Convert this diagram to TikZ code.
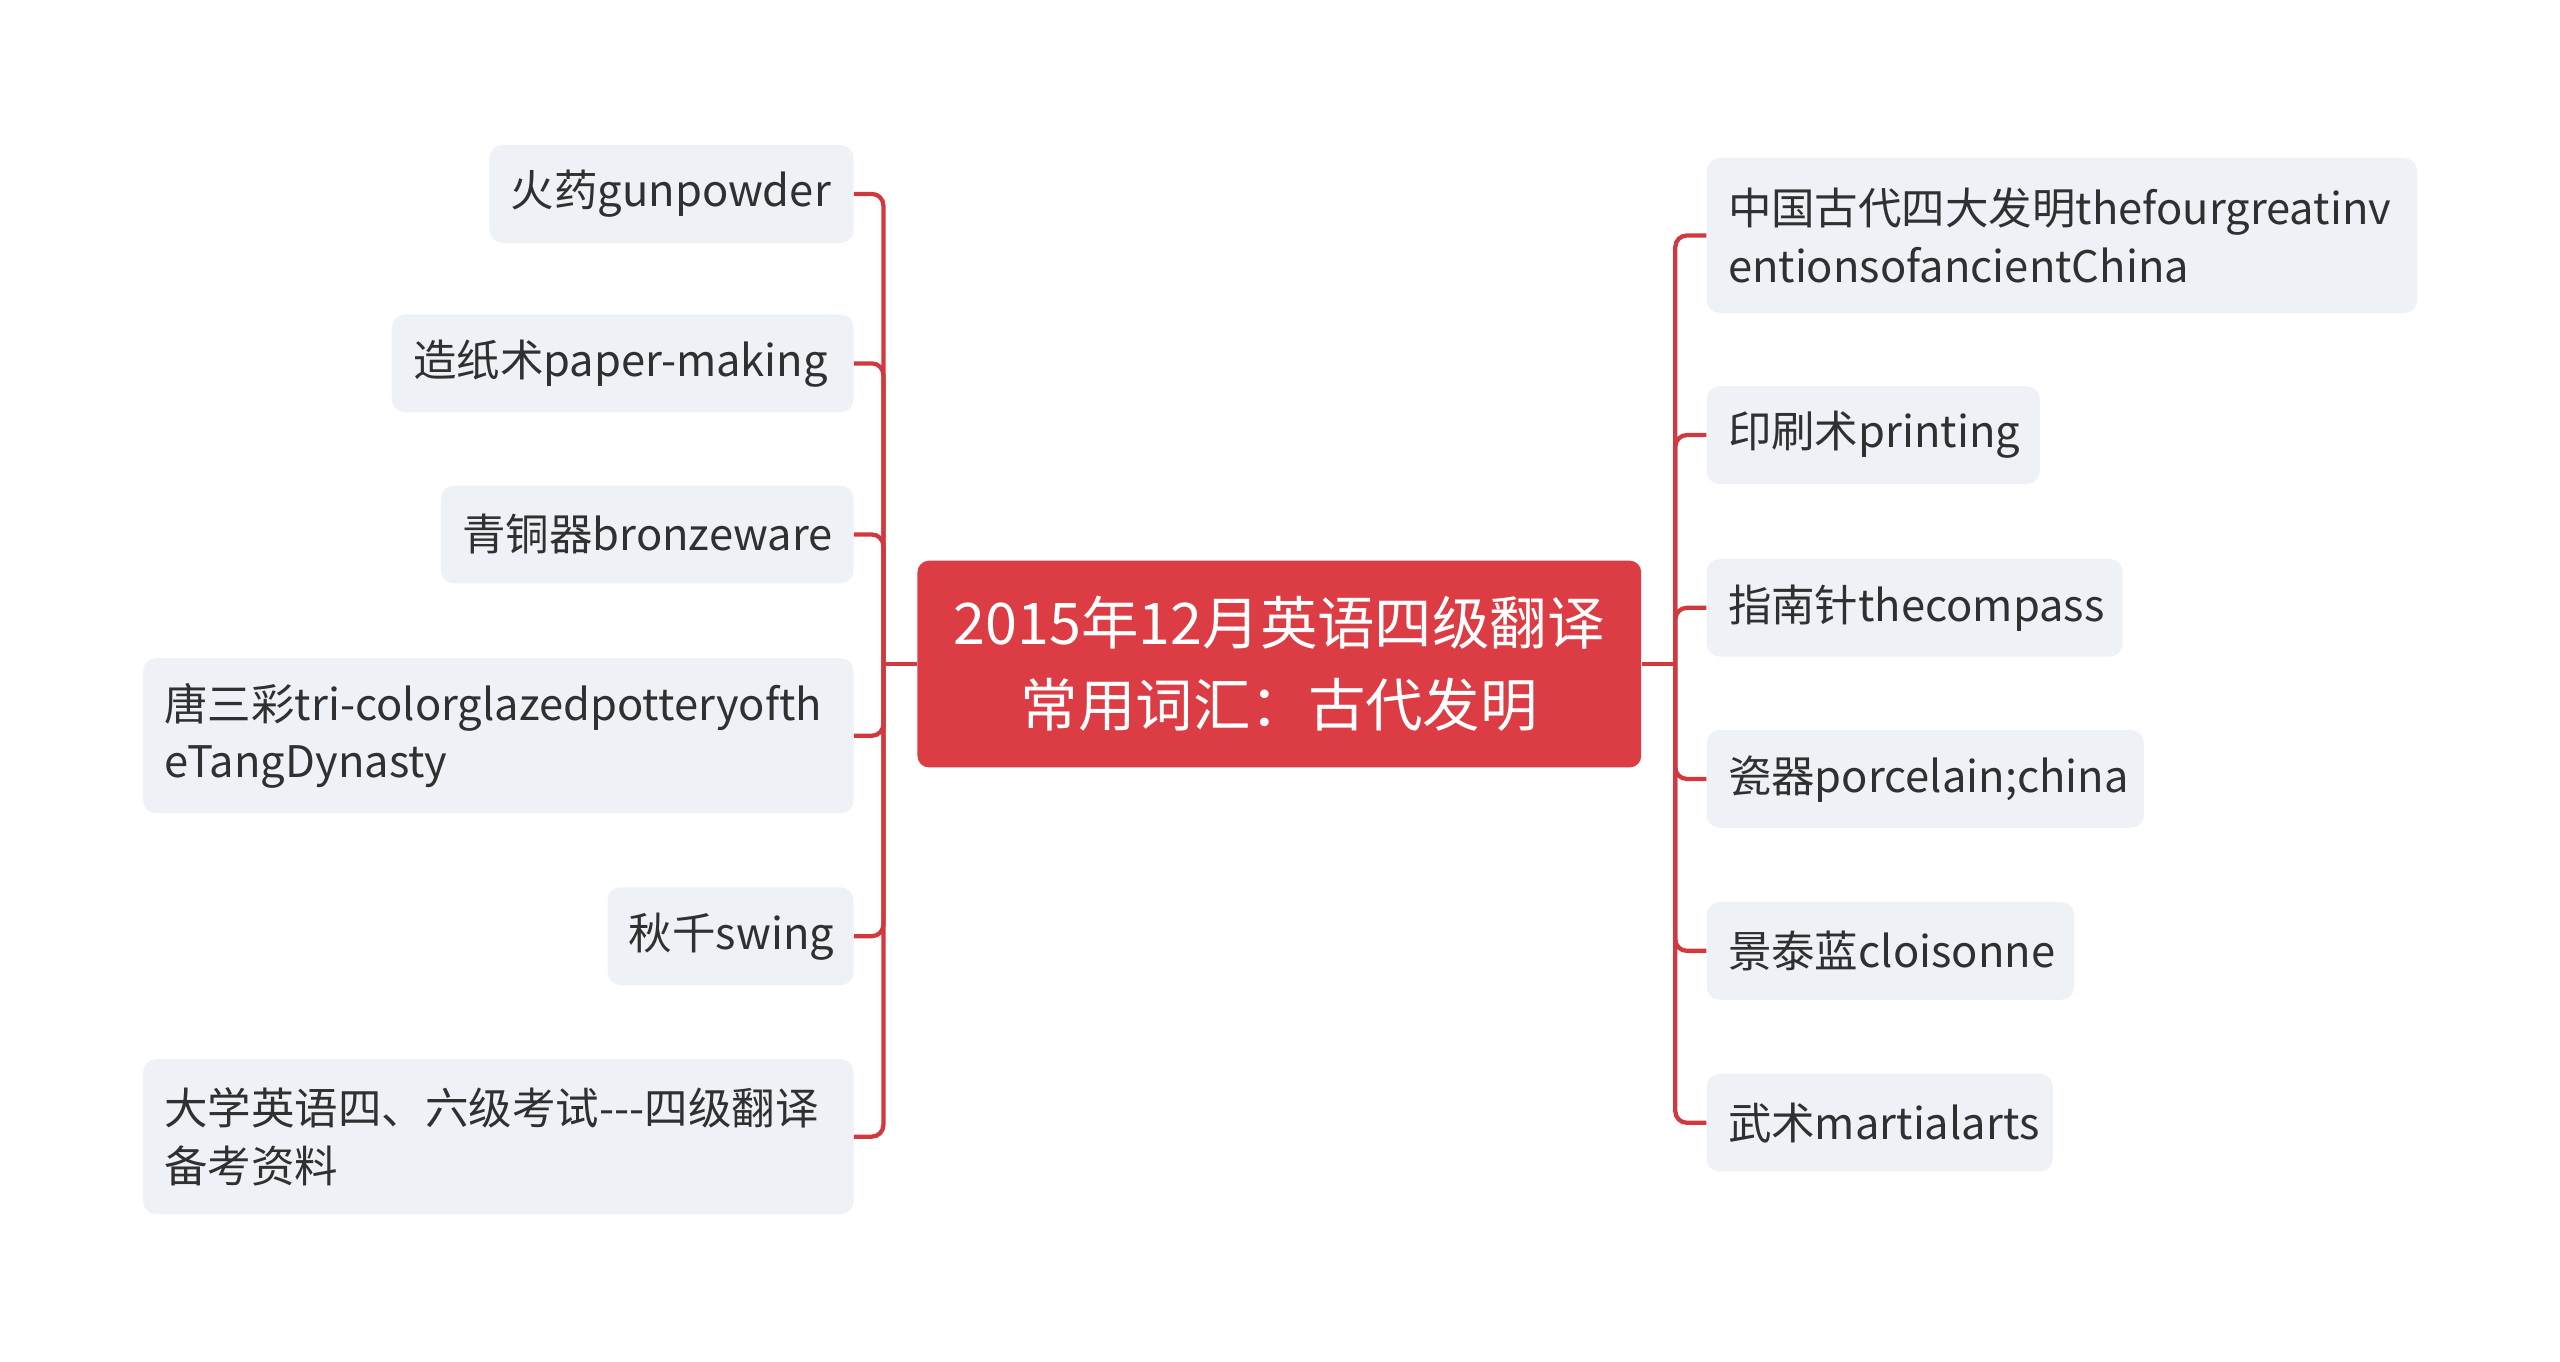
\documentclass[tikz,border=0pt]{standalone}
\usepackage{fontspec}
\setmainfont{Noto Sans CJK SC}
\definecolor{rootred}{HTML}{DC3C44}
\definecolor{linkred}{HTML}{D2393F}
\definecolor{itemgray}{HTML}{EEF1F5}
\definecolor{itemtext}{HTML}{303030}
\tikzset{
	root/.style={fill=rootred, rounded corners=7pt, text=white, font=\fontsize{35}{50}\selectfont, align=center, minimum width=441pt, minimum height=126pt},
	item/.style={fill=itemgray, rounded corners=8pt, text=itemtext, font=\fontsize{26.5}{35}\selectfont, align=left, inner xsep=13pt, minimum height=59.6pt},
	twoline/.style={minimum height=94.5pt},
	link/.style={draw=linkred, line width=2.6pt, rounded corners=7pt},
}
\begin{document}
\begin{tikzpicture}[x=0.995pt,y=-0.993pt]
	
	\useasboundingbox (0,0) rectangle (1567.8,835.2);
	
	\node[root] (root) at (783.5,407.5) {2015年12月英语四级翻译\\常用词汇：古代发明};
	
	% left side
	\node[item,anchor=east,text width=196pt] (gunpowder) at (523,119) {火药gunpowder};
	\node[item,anchor=east,text width=255.5pt] (paper)   at (523,223) {造纸术paper-making};
	\node[item,anchor=east,text width=225.5pt] (bronze)  at (523,328) {青铜器bronzeware};
	\node[item,twoline,anchor=east,text width=407pt] (tang) at (523,451.5) {唐三彩tri-colorglazedpotteryofth\\eTangDynasty};
	\node[item,anchor=east,text width=124pt] (swing)     at (523,574.5) {秋千swing};
	\node[item,twoline,anchor=east,text width=407pt] (exam) at (523,697.5) {大学英语四、六级考试-{}-{}-四级翻译\\备考资料};
	
	% right side
	\node[item,twoline,anchor=west,text width=407pt] (four) at (1045,144.5) {中国古代四大发明thefourgreatinv\\entionsofancientChina};
	\node[item,anchor=west,text width=177pt] (printing)  at (1045,267) {印刷术printing};
	\node[item,anchor=west,text width=227.5pt] (compass) at (1045,373) {指南针thecompass};
	\node[item,anchor=west,text width=240.5pt] (porcelain) at (1045,478) {瓷器porcelain;china};
	\node[item,anchor=west,text width=198pt] (cloisonne) at (1045,583.5) {景泰蓝cloisonne};
	\node[item,anchor=west,text width=185pt] (martial)   at (1045,689) {武术martialarts};
	
	\coordinate (tl) at (541,407.5);
	\coordinate (tr) at (1026,407.5);
	
	\path[link] (root.west) -- (tl);
	\path[link] (tl) |- (gunpowder.east);
	\path[link] (tl) |- (paper.east);
	\path[link] (tl) |- (bronze.east);
	\path[link] (tl) |- (tang.east);
	\path[link] (tl) |- (swing.east);
	\path[link] (tl) |- (exam.east);
	
	\path[link] (root.east) -- (tr);
	\path[link] (tr) |- (four.west);
	\path[link] (tr) |- (printing.west);
	\path[link] (tr) |- (compass.west);
	\path[link] (tr) |- (porcelain.west);
	\path[link] (tr) |- (cloisonne.west);
	\path[link] (tr) |- (martial.west);
	
\end{tikzpicture}
\end{document}
